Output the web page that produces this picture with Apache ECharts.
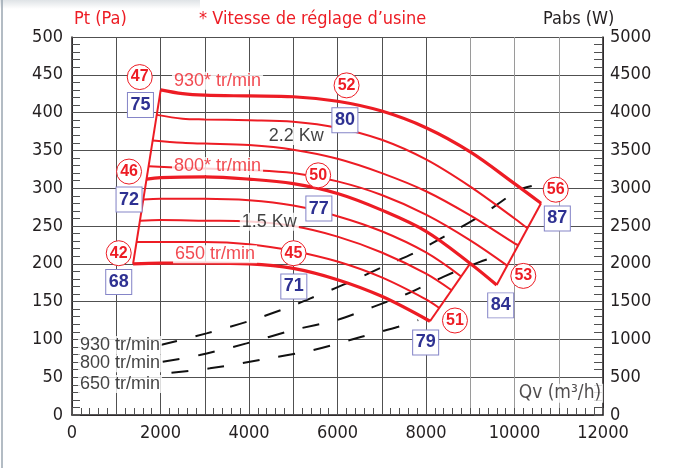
<!DOCTYPE html>
<html>
<head>
<meta charset="utf-8">
<script src="https://cdn.jsdelivr.net/npm/echarts@6/dist/echarts.min.js"></script>
<style>
html, body { margin: 0; padding: 0; background: #fff; }
#chart { width: 678px; height: 475px; }
</style>
</head>
<body>
<div id="chart"></div>
<script>
// courbes pression (Pa) en fonction du débit Qv (m3/h)
var curve930 = [[2005, 430], [2500, 425], [3000, 423], [4000, 422], [5000, 421], [6000, 415], [7000, 402], [8000, 380], [9000, 348], [10000, 306], [10600, 280]];
var curveB = [[1915, 397], [2500, 392], [3000, 391], [4000, 390], [5000, 388], [6000, 380], [7000, 364], [8000, 338], [9000, 302], [10000, 260], [10292, 247]];
var curveC = [[1823, 363], [2500, 360], [3000, 359], [4000, 357], [5000, 351], [6000, 339], [7000, 320], [8000, 296], [9000, 264], [10000, 227], [10090, 224.5]];
var curveD = [[1732, 329], [2500, 327], [3000, 326], [4000, 324], [5000, 320], [6000, 309], [7000, 291], [8000, 265], [9000, 231], [9835, 197.6]];
var curve800 = [[1684, 312], [2000, 314], [3000, 315], [4000, 312], [5000, 306], [6000, 293], [7000, 271], [8000, 243], [9000, 200.5], [9597, 172]];
var curveF = [[1611, 285], [2000, 286], [3000, 286], [4000, 284], [5000, 277], [6000, 263], [7000, 243], [8000, 215], [8795, 183.2]];
var curveG = [[1535, 257], [2000, 258], [3000, 257], [4000, 256], [5000, 250], [6000, 236], [7000, 215], [8000, 187], [8578, 165]];
var curveH = [[1459, 229], [2000, 229], [3000, 229], [4000, 226], [5000, 217], [6000, 203], [7000, 182], [8000, 153], [8300, 141.6]];
var curve650 = [[1380, 200], [2000, 201], [3000, 201], [4000, 200], [5000, 194], [6000, 179], [7000, 157], [8090, 124]];

// limites de la zone
var borderLeft = [[1380, 200], [2005, 430]];
var borderRightHigh = [[10600, 280], [9597, 172]];
var borderRightLow = [[9000, 200.5], [8090, 124]];

// puissance absorbée (W), courbes en pointillés
var power930 = [[2000, 925], [3040, 1080], [4020, 1246], [4923, 1430], [5375, 1540], [6205, 1740], [7110, 1982], [7712, 2137], [8467, 2379], [9258, 2643], [10086, 2973], [10389, 3030]];
var power800 = [[2050, 704], [2888, 793], [3944, 947], [4998, 1123], [5980, 1255], [6807, 1430], [7562, 1600], [8390, 1828], [9220, 2026], [9620, 2100]];
var power650 = [[2248, 559], [3114, 617], [4245, 727], [5450, 859], [6545, 1035], [7372, 1167], [7825, 1255]];

// repères : cercles rouges et carrés bleus
var circleMarks = [[1531, 447, '47'], [6205, 436, '52'], [1289, 322, '46'], [5563, 317, '50'], [1056, 214, '42'], [5006, 214, '45'], [10932, 298, '56'], [10199, 184, '53'], [8654, 125, '51']];
var squareMarks = [[1547, 410, '75'], [6167, 390, '80'], [1289, 285, '72'], [5579, 273, '77'], [1056, 176, '68'], [5013, 170, '71'], [10968, 260, '87'], [9688, 145, '84'], [7992, 96, '79']];

// textes dans le graphique
var redTexts = [[2260, 442, '930* tr/min'], [2260, 329.5, '800* tr/min'], [2284, 212.7, '650 tr/min']];
var blackTexts = [[4403, 369, '2.2 Kw'], [3792, 255.5, '1.5 Kw'], [136, 92.5, '930 tr/min'], [136, 68.3, '800 tr/min'], [136, 41, '650 tr/min']];
var qvText = [[10050, 28.7, 'Qv (m\u00b3/h)']];

var RED = '#ed1c24';
var NAVY = '#2e3192';
var INK = '#231f20';
var GRIDC = '#505050';
var narrow = '"Liberation Sans Narrow", "DejaVu Sans Condensed", sans-serif';
var sans = '"Liberation Sans", Arial, sans-serif';

function redLine(data, w) {
	return {
		type: 'line', data: data, smooth: 0.35, showSymbol: false, z: 3,
		lineStyle: { color: RED, width: w }, silent: true
	};
}
function dashLine(data) {
	return {
		type: 'line', yAxisIndex: 1, data: data, smooth: 0.3, showSymbol: false, z: 2,
		lineStyle: { color: '#111', width: 2, type: [17, 19] }, silent: true
	};
}
function textSeries(data, color, font, size) {
	return {
		type: 'scatter', data: data, symbolSize: 0, z: 6, silent: true,
		label: {
			show: true, position: 'right', distance: 0,
			formatter: function (p) { return p.value[2]; },
			color: color, fontFamily: font, fontSize: size,
			backgroundColor: '#fff', padding: [0, 2]
		}
	};
}

var myChart = echarts.init(document.getElementById('chart'));
var gridColors = [];
for (var i = 0; i <= 12; i++) {
	gridColors.push(i >= 9 && i <= 11 ? '#9a9a9a' : GRIDC);
}

var option = {
	backgroundColor: '#fff',
	animation: false,
	grid: { left: 72, right: 75, top: 37, bottom: 60 },
	graphic: [
		{ type: 'rect', shape: { x: 0, y: 0, width: 200, height: 9 }, silent: true,
		  style: { fill: new echarts.graphic.LinearGradient(0, 0, 0, 1, [{ offset: 0, color: '#dfe3e6' }, { offset: 1, color: '#ffffff' }]) } },
		{ type: 'line', shape: { x1: 2, y1: 0, x2: 2, y2: 468 }, silent: true,
		  style: { stroke: '#9aa6b0', lineWidth: 1.5 } },
		{ type: 'text', left: 74, top: 10, silent: true,
		  style: { text: 'Pt (Pa)', fill: RED, font: '18px ' + narrow } },
		{ type: 'text', left: 199, top: 10, silent: true,
		  style: { text: '* Vitesse de r\u00e9glage d\u2019usine', fill: RED, font: '18px ' + narrow } },
		{ type: 'text', left: 543, top: 10, silent: true,
		  style: { text: 'Pabs (W)', fill: INK, font: '18px ' + narrow } }
	],
	xAxis: {
		type: 'value', min: 0, max: 12000, interval: 1000,
		axisLine: { show: true, onZero: false, lineStyle: { color: INK, width: 1.5 } },
		axisTick: { show: true, inside: true, length: 7, lineStyle: { color: GRIDC } },
		minorTick: { show: true, splitNumber: 5, length: 7, lineStyle: { color: GRIDC } },
		splitLine: { show: true, lineStyle: { color: gridColors, width: 1 } },
		axisLabel: {
			color: INK, fontFamily: narrow, fontSize: 18, margin: 9,
			formatter: function (v) { return v % 2000 === 0 ? String(v) : ''; }
		}
	},
	yAxis: [
		{
			type: 'value', min: 0, max: 500, interval: 50, position: 'left',
			axisLine: { show: true, lineStyle: { color: INK, width: 1.5 } },
			axisTick: { show: true, inside: true, length: 8, lineStyle: { color: GRIDC } },
			minorTick: { show: true, splitNumber: 5, length: 8, lineStyle: { color: GRIDC } },
			splitLine: { show: true, lineStyle: { color: GRIDC, width: 1 } },
			axisLabel: { color: INK, fontFamily: narrow, fontSize: 18, margin: 9,
				formatter: function (v) { return String(v); } }
		},
		{
			type: 'value', min: 0, max: 5000, interval: 500, position: 'right',
			axisLine: { show: true, lineStyle: { color: INK, width: 1.5 } },
			axisTick: { show: true, inside: true, length: 9, lineStyle: { color: GRIDC } },
			minorTick: { show: true, splitNumber: 5, length: 9, lineStyle: { color: GRIDC } },
			splitLine: { show: false },
			axisLabel: { color: INK, fontFamily: narrow, fontSize: 18, margin: 7,
				formatter: function (v) { return String(v); } }
		}
	],
	series: [
		redLine(curve930, 3.2),
		redLine(curveB, 2),
		redLine(curveC, 2),
		redLine(curveD, 2),
		redLine(curve800, 3.2),
		redLine(curveF, 2),
		redLine(curveG, 2),
		redLine(curveH, 2),
		redLine(curve650, 3.2),
		{ type: 'line', data: borderLeft, showSymbol: false, z: 3, silent: true, lineStyle: { color: RED, width: 2 } },
		{ type: 'line', data: borderRightHigh, showSymbol: false, z: 3, silent: true, lineStyle: { color: RED, width: 2 } },
		{ type: 'line', data: borderRightLow, showSymbol: false, z: 3, silent: true, lineStyle: { color: RED, width: 2 } },
		dashLine(power930),
		dashLine(power800),
		dashLine(power650),
		textSeries(redTexts, RED, sans, 18),
		textSeries(blackTexts, '#111', sans, 18),
		textSeries(qvText, INK, narrow, 19),
		{
			type: 'scatter', data: circleMarks, symbol: 'circle', symbolSize: 25, z: 7, silent: true,
			itemStyle: { color: '#fff', borderColor: RED, borderWidth: 1, opacity: 1 },
			label: {
				show: true, position: 'inside', color: RED, fontFamily: sans, fontWeight: 'bold', fontSize: 16,
				formatter: function (p) { return p.value[2]; }
			}
		},
		{
			type: 'scatter', data: squareMarks, symbol: 'rect', symbolSize: [26, 25], z: 7, silent: true,
			itemStyle: { color: '#fff', borderColor: '#8585c8', borderWidth: 1, opacity: 1 },
			label: {
				show: true, position: 'inside', color: NAVY, fontFamily: sans, fontWeight: 'bold', fontSize: 18,
				formatter: function (p) { return p.value[2]; }
			}
		}
	]
};

myChart.setOption(option);
</script>
</body>
</html>
